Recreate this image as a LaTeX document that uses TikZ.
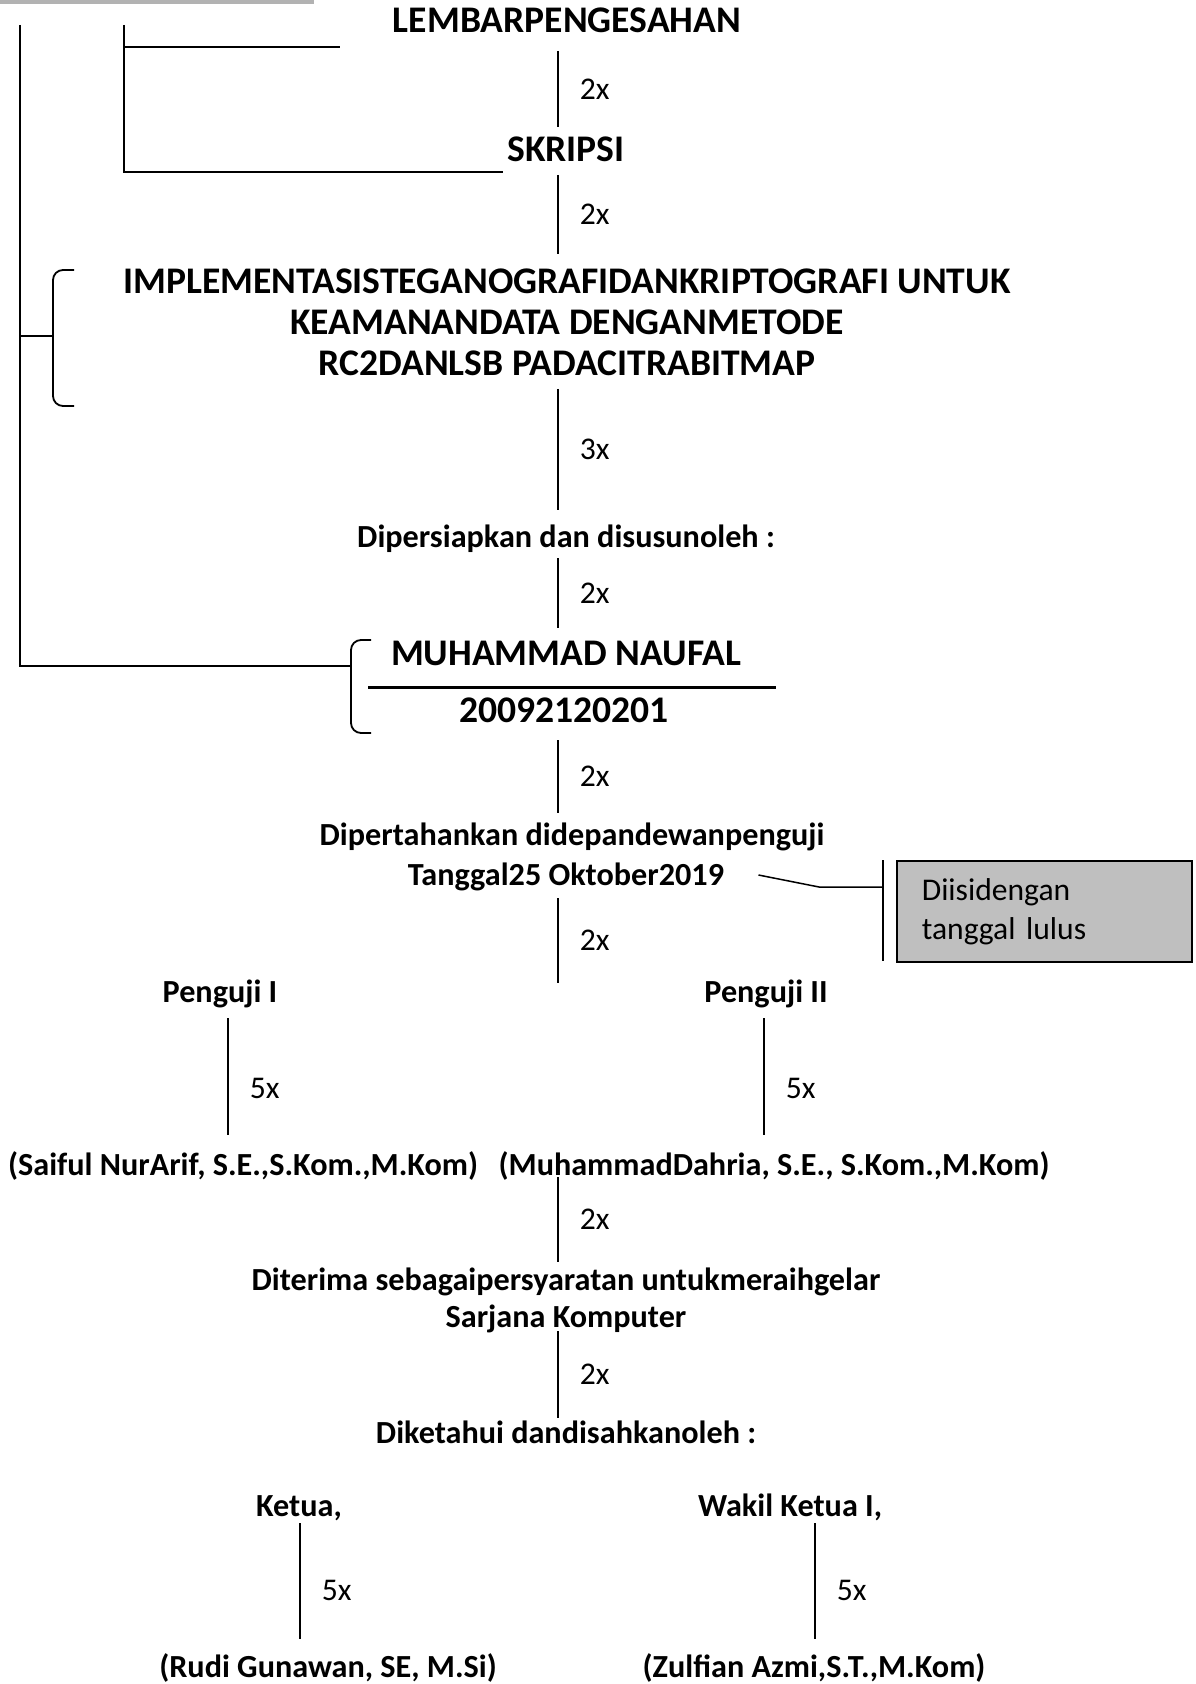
\documentclass[tikz,border=0pt]{standalone}
\usepackage{fontspec}
\setmainfont{Carlito}
\usetikzlibrary{calc}
\begin{document}
\begin{tikzpicture}[x=0.5pt,y=-0.5pt,
  txt/.style={inner sep=0pt, anchor=base},
  big/.style={txt, font=\fontsize{18.8pt}{21pt}\selectfont\bfseries},
  med/.style={txt, font=\fontsize{16.1pt}{19pt}\selectfont\bfseries},
  lab/.style={inner sep=0pt, anchor=west, xshift=10.5pt, font=\fontsize{15.8pt}{19pt}\selectfont},
  conn/.style={line width=0.75pt},
  outline/.style={line width=0.9pt},
]
\useasboundingbox (0,0) rectangle (1195,1684);
\fill[black!30] (0,0) rectangle (314,4.5);

\coordinate (spine) at (558,0);
\coordinate (colA) at (228,0);
\coordinate (colB) at (764,0);
\coordinate (colC) at (300,0);
\coordinate (colD) at (815,0);

\node[big] (lembar) at (567,33) {LEMBARPENGESAHAN};
\node[big] (skripsi) at (566,162) {SKRIPSI};
\node[big] (t1) at (567,294) {IMPLEMENTASISTEGANOGRAFIDANKRIPTOGRAFI UNTUK};
\node[big] (t2) at (567,335) {KEAMANANDATA DENGANMETODE};
\node[big] (t3) at (567,376) {RC2DANLSB PADACITRABITMAP};
\node[med] (siap) at (566,547) {Dipersiapkan dan disusunoleh :};
\node[big] (nama) at (566,665) {MUHAMMAD NAUFAL};
\node[big] (nim) at (564,722) {20092120201};
\node[med] (tahan) at (572,845) {Dipertahankan didepandewanpenguji};
\node[med] (tgl) at (566,885) {Tanggal25 Oktober2019};
\node[med] (pgA) at (220,1002) {Penguji I};
\node[med] (pgB) at (766,1002) {Penguji II};
\node[med] (saiful) at (243,1175) {(Saiful NurArif, S.E.,S.Kom.,M.Kom)};
\node[med] (dahria) at (774,1175) {(MuhammadDahria, S.E., S.Kom.,M.Kom)};
\node[med] (terima) at (566,1290) {Diterima sebagaipersyaratan untukmeraihgelar};
\node[med] (sarjana) at (566,1327) {Sarjana Komputer};
\node[med] (ketahui) at (566,1443) {Diketahui dandisahkanoleh :};
\node[med] (ketua) at (299,1516) {Ketua,};
\node[med] (wakil) at (790,1516) {Wakil Ketua I,};
\node[med] (rudi) at (328,1677) {(Rudi Gunawan, SE, M.Si)};
\node[med] (zulfian) at (814,1677) {(Zulfian Azmi,S.T.,M.Kom)};

\draw[line width=1.5pt] (368,687) -- (776,687);

\draw[conn] ($(lembar.base -| spine)+(0,18)$) -- node[lab]{2x} ($(skripsi.base -| spine)+(0,-35)$);
\draw[conn] ($(skripsi.base -| spine)+(0,13)$) -- node[lab]{2x} ($(t1.base -| spine)+(0,-40)$);
\draw[conn] ($(t3.base -| spine)+(0,13)$) -- node[lab]{3x} ($(siap.base -| spine)+(0,-37)$);
\draw[conn] ($(siap.base -| spine)+(0,11)$) -- node[lab]{2x} ($(nama.base -| spine)+(0,-37)$);
\draw[conn] ($(nim.base -| spine)+(0,18)$) -- node[lab]{2x} ($(tahan.base -| spine)+(0,-32)$);
\draw[conn] ($(tgl.base -| spine)+(0,13)$) -- node[lab]{2x} ($(pgA.base -| spine)+(0,-19)$);
\draw[conn] ($(pgA.base -| colA)+(0,16)$) -- node[lab,pos=0.6]{5x} ($(saiful.base -| colA)+(0,-40)$);
\draw[conn] ($(pgB.base -| colB)+(0,16)$) -- node[lab,pos=0.6]{5x} ($(dahria.base -| colB)+(0,-40)$);
\draw[conn] ($(dahria.base -| spine)+(0,2)$) -- node[lab]{2x} ($(terima.base -| spine)+(0,-28)$);
\draw[conn] ($(sarjana.base -| spine)+(0,4)$) -- node[lab]{2x} ($(ketahui.base -| spine)+(0,-25)$);
\draw[conn] ($(ketua.base -| colC)+(0,7)$) -- node[lab,pos=0.58]{5x} ($(rudi.base -| colC)+(0,-38)$);
\draw[conn] ($(wakil.base -| colD)+(0,7)$) -- node[lab,pos=0.58]{5x} ($(zulfian.base -| colD)+(0,-38)$);

\coordinate (bartop) at (883,860);
\coordinate (barbot) at (883,961);
\draw[conn] (bartop) -- (barbot);
\node[draw, line width=0.8pt, fill=gray!50, anchor=north west, minimum width=147.5pt, minimum height=50.5pt, text width=122.5pt, inner xsep=12.5pt, inner ysep=0pt, align=left, font=\fontsize{15.8pt}{19.5pt}\selectfont] (box) at (896,860) {Diisidengan\\tanggal lulus};
\draw[conn] ($(tgl.base east)+(34,-10)$) -- ($(tgl.base -| bartop)+(-64,2)$) -- ($(tgl.base -| bartop)+(0,2)$);

\draw[outline] (20,25) -- (20,666) -- (351,666);
\draw[outline, rounded corners=5pt] (371,640) -- (351,640) -- (351,733) -- (371,733);
\draw[outline, rounded corners=5pt] (74,270) -- (53,270) -- (53,406) -- (74,406);
\draw[outline] (20,336) -- (53,336);
\draw[outline] (124,25) -- (124,172) -- (503,172);
\draw[outline] (124,47) -- (340,47);
\end{tikzpicture}
\end{document}
